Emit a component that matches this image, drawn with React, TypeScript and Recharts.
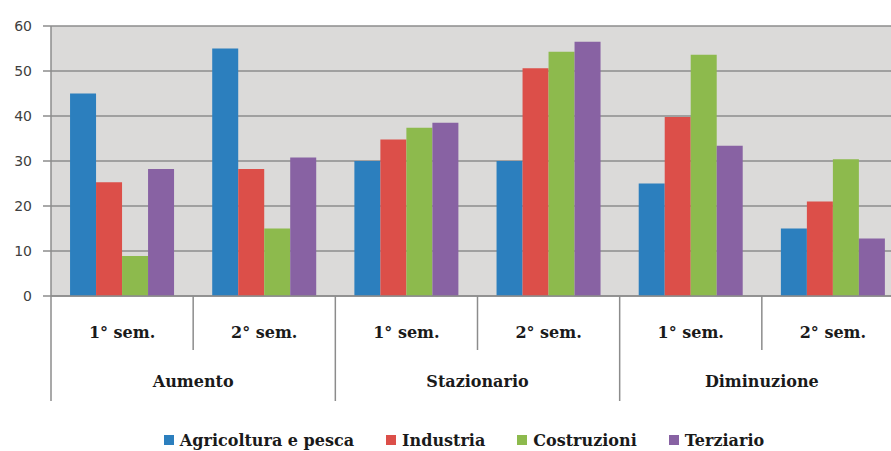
import { BarChart, Bar, XAxis, YAxis, CartesianGrid, Legend } from 'recharts';

const semesters = ['1° sem.', '2° sem.', '1° sem.', '2° sem.', '1° sem.', '2° sem.'];
const groups = ['Aumento', 'Aumento', 'Stazionario', 'Stazionario', 'Diminuzione', 'Diminuzione'];

const agricoltura = [45, 55, 30, 30, 25, 15];
const industria = [25.3, 28.2, 34.8, 50.6, 39.8, 21];
const costruzioni = [8.9, 15, 37.4, 54.3, 53.6, 30.4];
const terziario = [28.2, 30.8, 38.5, 56.5, 33.4, 12.8];

const yTicks = [0, 10, 20, 30, 40, 50, 60];

const SERIES = [
  { key: 'agricoltura', name: 'Agricoltura e pesca', color: '#2c7fbe' },
  { key: 'industria', name: 'Industria', color: '#dc4f49' },
  { key: 'costruzioni', name: 'Costruzioni', color: '#8dba4d' },
  { key: 'terziario', name: 'Terziario', color: '#8862a3' },
];

const data = semesters.map((s, i) => ({
  sem: s,
  group: groups[i],
  agricoltura: agricoltura[i],
  industria: industria[i],
  costruzioni: costruzioni[i],
  terziario: terziario[i],
}));

const W = 910;
const H = 451;
const PLOT_LEFT = 51;
const PLOT_RIGHT = 904;
const PLOT_TOP = 26;
const PLOT_BOTTOM = 296;
const BAND = (PLOT_RIGHT - PLOT_LEFT) / semesters.length;
const LEGEND_H = 22;
const SERIF = '"DejaVu Serif", serif';
const LINE = '#8c8c8c';

function GroupedTick(props: any) {
  const { x, payload } = props;
  const i = payload.index;
  const left = x - BAND / 2;
  const base = PLOT_BOTTOM;
  return (
    <g>
      <line x1={left} x2={left} y1={base} y2={i % 2 === 0 ? 401 : 350} stroke={LINE} strokeWidth={1.5} />
      {i === semesters.length - 1 && (
        <line x1={x + BAND / 2} x2={x + BAND / 2} y1={base} y2={401} stroke={LINE} strokeWidth={1.5} />
      )}
      <text x={x} y={338} textAnchor="middle" fontFamily={SERIF} fontWeight="bold" fontSize={16} fill="#1a1a1a">
        {payload.value}
      </text>
      {i % 2 === 1 && (
        <text x={left} y={387} textAnchor="middle" fontFamily={SERIF} fontWeight="bold" fontSize={16} fill="#1a1a1a">
          {groups[i]}
        </text>
      )}
    </g>
  );
}

function LegendContent() {
  return (
    <div
      style={{
        display: 'flex',
        justifyContent: 'center',
        alignItems: 'center',
        gap: 32,
        paddingLeft: 24,
        fontFamily: SERIF,
        fontWeight: 'bold',
        fontSize: 16,
        color: '#1a1a1a',
        height: LEGEND_H,
      }}
    >
      {SERIES.map(s => (
        <span key={s.key} style={{ display: 'flex', alignItems: 'center' }}>
          <span style={{ width: 10, height: 10, background: s.color, display: 'inline-block', marginRight: 6 }} />
          {s.name}
        </span>
      ))}
    </div>
  );
}

export default function App() {
  return (
    <div style={{ position: 'fixed', left: 0, top: 0, width: 891, height: 451, overflow: 'hidden', background: '#fff' }}>
      <BarChart
        width={W}
        height={H}
        data={data}
        margin={{ top: PLOT_TOP, right: W - PLOT_RIGHT, bottom: 0, left: 0 }}
        barCategoryGap="13.4%"
        barGap={0}
      >
        <CartesianGrid vertical={false} fill="#dbdad9" stroke={LINE} strokeWidth={1.5} fillOpacity={1} />
        <XAxis
          dataKey="sem"
          height={H - LEGEND_H - PLOT_BOTTOM}
          interval={0}
          tickLine={false}
          axisLine={{ stroke: LINE, strokeWidth: 1.5 }}
          tick={<GroupedTick />}
        />
        <YAxis
          width={PLOT_LEFT}
          domain={[0, 60]}
          ticks={yTicks}
          tickSize={8}
          tickMargin={11}
          tickLine={{ stroke: LINE, strokeWidth: 1.5 }}
          axisLine={{ stroke: LINE, strokeWidth: 1.5 }}
          tick={{ fontFamily: '"DejaVu Sans", sans-serif', fontSize: 14, fill: '#404040' }}
        />
        <Legend verticalAlign="bottom" height={LEGEND_H} content={<LegendContent />} />
        {SERIES.map(s => (
          <Bar key={s.key} dataKey={s.key} name={s.name} fill={s.color} isAnimationActive={false} />
        ))}
      </BarChart>
    </div>
  );
}
